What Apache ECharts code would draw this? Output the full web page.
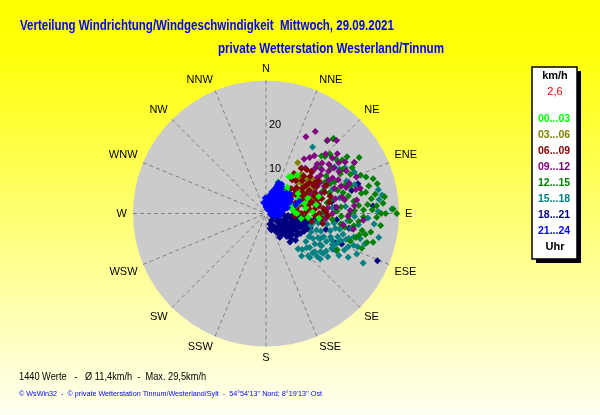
<!DOCTYPE html>
<html><head><meta charset="utf-8">
<script src="https://cdn.jsdelivr.net/npm/echarts/dist/echarts.min.js"></script>
<style>html,body{margin:0;padding:0;background:#fff;}#c{width:600px;height:415px;}</style>
</head><body><div id="c"></div>
<script>
const directions = ['N','NNE','NE','ENE','E','ESE','SE','SSE','S','SSW','SW','WSW','W','WNW','NW','NNW'];
const periodLabels = ['00...03','03...06','06...09','09...12','12...15','15...18','18...21','21...24'];
const radiusLabels = ['0','10','20',''];
// [speed km/h, direction deg]
const p00_03 = [[10.1,34.5],[11.2,38.8],[7,31],[7.6,39],[7.6,21],[9.8,32],[8,65],[9,75],[10,70],[7,45],[7,75],[6.5,88],[6,55],[6,70],[6.5,40],[5.5,35],[8.5,58],[7,90],[9,82],[6,80],[5,60],[8,72],[10.5,88],[11.5,80],[12,95],[9.5,95],[8,98],[12.5,72]];
const p03_06 = [[13.5,32],[11.1,43.5],[11.3,46],[11.8,49],[12,42],[10.5,50],[12.5,52],[10,45],[9,55],[11,56],[12,61],[13,55],[10,62],[9,70],[11,72]];
const p06_09 = [[12.9,38],[13.5,43],[9.6,38],[8,45],[8,60],[8,75],[8,90],[7,55],[7,70],[7,85],[6.5,95],[9,50],[9,65],[9,80],[9,95],[10,42],[10,55],[10,70],[10,85],[10.5,100],[11,48],[11,62],[11,78],[11,92],[12,45],[12,55],[12,68],[12,82],[12.5,95],[13,50],[13,62],[13,75],[13.5,88],[14,58],[14,70],[14.5,80],[15,65],[6,65],[6,80],[7.5,40],[8.5,52],[9.5,60],[10.5,75],[11.5,70],[12.5,60],[13,100],[14,92],[15,75],[14,47],[11,35],[8,55],[9,70],[10,78],[11,85],[12,90],[13,85],[12,75],[7,80],[9,88],[10,65],[11,55],[13,58]];
const p09_12 = [[21.6,31],[19.5,27.5],[21.6,40],[16,46],[15.1,47.5],[17,56],[18.4,56],[13.5,41],[22.9,44],[21,50],[21.3,57],[20.7,81.5],[22,94],[17.6,98.5],[12,50],[12.5,60],[13,70],[14,55],[14.5,65],[15,75],[16,62],[16.5,70],[17,48],[18,52],[18,65],[19,60],[19.5,50],[20,55],[20,70],[17.5,78],[16,85],[19,88],[14,85],[12,80],[11,65],[10.5,55],[11.5,45],[13,38],[15,35],[17,40],[19,45],[20.5,62],[22,68],[21,75],[18.5,92],[15,90],[13.5,95],[20,100],[23,60],[14,48],[16,38],[14,60],[15,55],[16,52],[17,62],[18,70],[19,72],[13,60],[12,65],[16,78],[18,80],[20,85],[22,75]];
const p12_15 = [[22.8,42],[24.5,59],[25.4,72],[26.5,85],[28.7,88],[29.5,90],[22.6,42],[21.4,40],[18,44],[18.5,46],[19.7,47],[22.3,55],[22.9,102],[21.6,103],[20,60],[21,65],[23,68],[24,75],[25,80],[22,78],[20,82],[23,85],[25,92],[26,96],[24,100],[21,95],[19,90],[18,75],[17,65],[16,58],[15,72],[14,80],[13,88],[15,95],[17,98],[19,70],[20,88],[22,92],[24,88],[26,75],[27,90],[23,60],[16,50],[14,60],[12,70],[13,95],[18,100],[20,98],[21,105],[25,105],[23,110],[19,62],[17,85],[21,55],[18,55],[23.7,106],[18,117],[16,65],[17,72],[18,80],[19,78],[20,72],[21,85],[22,88],[23,78],[24,82],[25,86],[22,100],[19,95],[16,88],[15,78],[14,68],[17,92],[20,108],[26,90],[27,82],[24,70],[22,62],[20,52],[15,62],[13,75]];
const p15_18 = [[10,98],[10.5,105],[11,112],[11,125],[11.5,135],[12,100],[12,118],[12.5,128],[13,108],[13,122],[13.5,135],[13.5,115],[14,100],[14,112],[14,128],[14.5,120],[15,105],[15,115],[15,130],[15.5,98],[15.5,110],[16,122],[16,102],[16.5,115],[17,108],[17,125],[17.5,98],[17.5,112],[18,105],[18,118],[18.5,95],[19,108],[19.5,100],[19.5,115],[20,92],[20.5,105],[21,97],[22,110],[22.4,114],[24.6,117],[23.3,107],[26,102],[23,92.5],[24.5,95.5],[28.4,88],[19.5,106.6],[10.8,138],[13.8,130],[15.7,125],[16.8,118],[12.5,140],[18.3,35],[20.6,60],[18.7,56],[19.6,68],[19.4,59],[25.9,78],[26.5,81],[25.7,83],[25.3,89],[16,70],[17,78],[21,72],[22,65],[15,85],[18,85],[13,90],[12,80],[11,100],[12,108],[13,115],[14,120],[15,125],[16,112],[17,115],[18,110],[19,120],[20,112],[21,118],[22,105],[12,130],[14,135],[16,130],[11,118],[13,100],[17,102],[20,100],[21,110]];
const p18_21 = [[2,110],[2,140],[2.5,160],[3,100],[3,125],[3,150],[3.5,165],[4,95],[4,115],[4,135],[4,155],[4.5,105],[4.5,125],[4.5,145],[5,95],[5,112],[5,130],[5,150],[5.5,100],[5.5,120],[5.5,140],[6,95],[6,108],[6,125],[6,145],[6.5,100],[6.5,115],[6.5,132],[7,95],[7,108],[7,122],[7,138],[7.5,100],[7.5,115],[7.5,128],[8,95],[8,107],[8,120],[8,135],[8.5,100],[8.5,112],[8.5,126],[9,97],[9,108],[9,120],[9,132],[9.5,103],[9.5,115],[10,98],[10,110],[10.5,100],[10.5,108],[11,97],[8.4,140],[6.2,150],[3.9,162],[27.3,113],[17.1,113],[18.4,112],[17.1,118],[21.8,72],[24.2,86],[16,95],[14,105],[13,88],[15,80],[12,100],[19,100],[20,75],[15.6,85],[3,110],[4,125],[5,120],[6,115],[7,130],[8,112],[9,102],[10,104],[6,135],[5,140],[4,145],[7,102]];
const p21_24 = [[1,20],[1,60],[1,100],[1.5,40],[1.5,80],[2,10],[2,30],[2,55],[2,85],[2.5,20],[2.5,45],[2.5,70],[2.5,95],[3,8],[3,30],[3,50],[3,75],[3.5,15],[3.5,40],[3.5,60],[3.5,85],[4,10],[4,25],[4,45],[4,65],[4,80],[4.5,18],[4.5,35],[4.5,55],[4.5,72],[5,15],[5,28],[5,42],[5,58],[5,75],[5.5,22],[5.5,35],[5.5,50],[5.5,65],[6,20],[6,30],[6,42],[6,55],[6.5,22],[6.5,33],[6.5,45],[7,22],[7,30],[7.5,22],[7.5,28],[3,100],[2,105],[1.5,0],[2.5,3],[2.5,348],[3.5,357],[8,70],[7,74],[6,65],[6.5,60],[7,50]];
const seriesData = [p00_03,p03_06,p06_09,p09_12,p12_15,p15_18,p18_21,p21_24];

const colors = ['#00FF00','#808000','#800000','#800080','#008000','#008080','#000080','#0000FF'];
// drawing order, bottom to top (indices into the period arrays)
const drawOrder = [6,5,4,3,1,2,0,7];
const FONT = '"Liberation Sans", Arial, sans-serif';

const chart = echarts.init(document.getElementById('c'));
const series = drawOrder.map(i => ({
  name: periodLabels[i], type: 'scatter', coordinateSystem: 'polar',
  symbol: 'diamond', symbolSize: 7, data: seriesData[i],
  itemStyle: {color: colors[i], opacity: 1}, silent: true
}));
function txt(text, x, y, font, fill, sx, align) {
  return {type:'text', x: x, y: y, scaleX: sx, style:{text: text, x: 0, y: 0, font: font, fill: fill,
    textAlign: align || 'left', textVerticalAlign: 'middle'}};
}
chart.setOption({
  animation: false,
  backgroundColor: {type:'linear', x:0, y:0, x2:0, y2:1, colorStops:[
    {offset:0, color:'#FFFF00'}, {offset:0.12, color:'#FFFF08'}, {offset:1, color:'#FFFFF2'}]},
  polar: {center: [266, 213.5], radius: 133},
  angleAxis: {
    type: 'value', min: 0, max: 360, interval: 22.5, startAngle: 90, clockwise: true,
    axisLine: {show: false}, axisTick: {show: false},
    axisLabel: {margin: 6, color: '#000', fontFamily: FONT, fontSize: 11,
      formatter: v => v >= 360 ? '' : directions[Math.round(v / 22.5)]},
    splitLine: {show: true, lineStyle: {color: '#808080', type: [4, 3], width: 1}}
  },
  radiusAxis: {
    type: 'value', min: 0, max: 30, interval: 10,
    axisLine: {show: false}, axisTick: {show: false},
    axisLabel: {color: '#000', fontFamily: FONT, fontSize: 11, margin: -3, align: 'left',
      formatter: v => radiusLabels[Math.round(v / 10)]},
    splitLine: {show: true, lineStyle: {color: ['#808080','#808080','#808080','rgba(0,0,0,0)'], type: [4, 3], width: 1}},
    splitArea: {show: true, areaStyle: {color: ['#CBCBCB']}}
  },
  legend: {
    orient: 'vertical', left: 533, top: 112, padding: 0, icon: 'none', itemWidth: 0, itemHeight: 14, itemGap: 2,
    selectedMode: false,
    textStyle: {fontFamily: FONT, fontSize: 10.5, fontWeight: 'bold', lineHeight: 14},
    data: periodLabels.map((n, i) => ({name: n, textStyle: {color: colors[i]}}))
  },
  graphic: [
    {type:'rect', shape:{x:536, y:71, width:45, height:192}, style:{fill:'#000'}},
    {type:'rect', shape:{x:532, y:67, width:45, height:192}, style:{fill:'#fff', stroke:'#000', lineWidth:1.5}},
    txt('km/h', 555, 76, 'bold 11px ' + FONT, '#000', 1, 'center'),
    txt('2,6', 555, 92, '11px ' + FONT, '#FF0000', 1, 'center'),
    txt('Uhr', 555, 247, 'bold 11px ' + FONT, '#000', 1, 'center'),
    txt('Verteilung Windrichtung/Windgeschwindigkeit  Mittwoch, 29.09.2021', 20, 26, 'bold 14px ' + FONT, '#0000FF', 0.822),
    txt('private Wetterstation Westerland/Tinnum', 218, 49, 'bold 14px ' + FONT, '#0000FF', 0.83),
    txt('1440 Werte   -   Ø 11,4km/h  -  Max. 29,5km/h', 19, 377, '11px ' + FONT, '#000', 0.84),
    txt("© WsWin32  -  © private Wetterstation Tinnum/Westerland/Sylt  -  54°54'13'' Nord; 8°19'13'' Ost", 19, 394, '8px ' + FONT, '#0000FF', 0.9)
  ],
  series: series
});
</script></body></html>
